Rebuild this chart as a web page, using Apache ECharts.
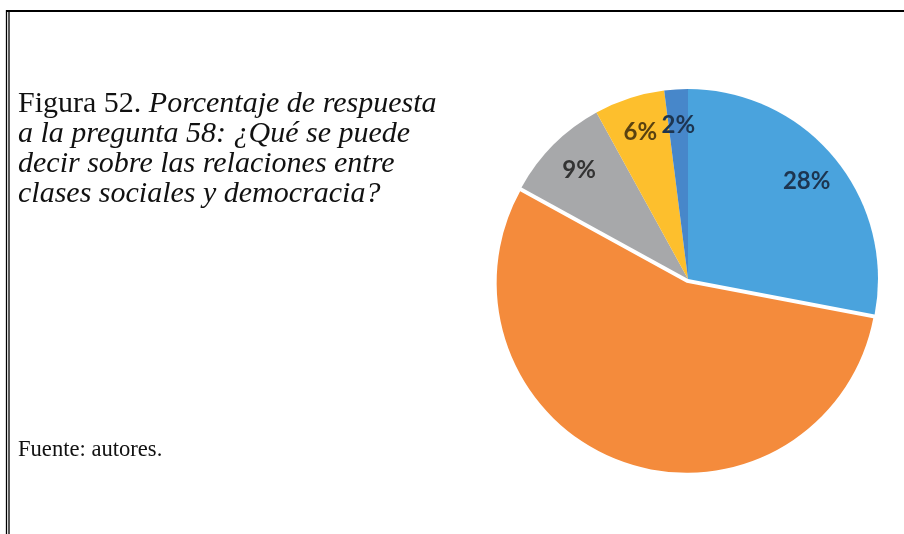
<!DOCTYPE html>
<html>
<head>
<meta charset="utf-8">
<title>Figura 52</title>
<script src="https://cdn.jsdelivr.net/npm/echarts@6/dist/echarts.min.js"></script>
<style>
  html, body { margin: 0; padding: 0; background: #ffffff; }
  #chart { width: 904px; height: 534px; }
</style>
</head>
<body>
<div id="chart"></div>
<script>
// Answer shares (percent), clockwise from 12 o'clock
const categories = ['Respuesta A', 'Respuesta B', 'Respuesta C', 'Respuesta D', 'Respuesta E'];
const shares = [28, 55, 9, 6, 2];
const sliceColors = ['#4aa3dd', '#f48b3c', '#a7a8aa', '#fdbf2d', '#4787ca'];
const labelColors = ['#1d3550', '#5a3218', '#333333', '#5a4210', '#1d3550'];

const captionLines = [
  ['Figura 52. ', 'Porcentaje de respuesta'],
  ['', 'a la pregunta 58: ¿Qué se puede'],
  ['', 'decir sobre las relaciones entre'],
  ['', 'clases sociales y democracia?']
];
const sourceNote = 'Fuente: autores.';

const chart = echarts.init(document.getElementById('chart'), null, { renderer: 'canvas' });

const R = 190;
const pieCenter = [688, 279];

const captionText = captionLines
  .map(([plain, ital]) => (plain ? '{r|' + plain + '}' : '') + '{i|' + ital + '}')
  .join('\n');

const serif = '"Liberation Serif", "Times New Roman", serif';

const option = {
  backgroundColor: '#ffffff',
  animation: false,
  title: [
    {
      text: captionText,
      left: 18,
      top: 89,
      padding: 0,
      textStyle: {
        fontWeight: 'normal',
        rich: {
          r: { fontFamily: serif, fontSize: 30, fontWeight: 'normal', color: '#111', lineHeight: 30 },
          i: { fontFamily: serif, fontSize: 30, fontWeight: 'normal', fontStyle: 'italic', color: '#111', lineHeight: 30 }
        }
      }
    },
    {
      text: sourceNote,
      left: 18,
      top: 439,
      padding: 0,
      textStyle: { fontFamily: serif, fontSize: 22.6, fontWeight: 'normal', color: '#111' }
    }
  ],
  graphic: [
    { type: 'line', shape: { x1: 6, y1: 11, x2: 904, y2: 11 }, style: { stroke: '#000', lineWidth: 2 } },
    { type: 'line', shape: { x1: 6.5, y1: 10, x2: 6.5, y2: 534 }, style: { stroke: '#000', lineWidth: 1.3 } },
    { type: 'line', shape: { x1: 9, y1: 11, x2: 9, y2: 534 }, style: { stroke: '#000', lineWidth: 1.3 } }
  ],
  series: [
    {
      // coloured slices
      type: 'pie',
      center: pieCenter,
      radius: [0, R],
      startAngle: 90,
      clockwise: true,
      selectedMode: 'single',
      selectedOffset: 4,
      silent: true,
      label: { show: false },
      labelLine: { show: false },
      itemStyle: { borderWidth: 0 },
      data: shares.map((v, i) => ({
        name: categories[i],
        value: v,
        selected: i === 1,
        itemStyle: { color: sliceColors[i] }
      }))
    },
    {
      // percentage labels, placed at about 0.79 of the slice radius
      type: 'pie',
      center: pieCenter,
      radius: [0, R * 1.59],
      startAngle: 90,
      clockwise: true,
      silent: true,
      itemStyle: { color: 'rgba(0,0,0,0)' },
      labelLine: { show: false },
      label: {
        show: true,
        position: 'inside',
        formatter: p => p.value + '%',
        fontFamily: 'Lato, "Open Sans", sans-serif',
        fontWeight: 'bold',
        fontSize: 24
      },
      data: shares.map((v, i) => ({
        name: categories[i],
        value: v,
        label: { color: labelColors[i] }
      }))
    }
  ]
};

chart.setOption(option);
</script>
</body>
</html>
